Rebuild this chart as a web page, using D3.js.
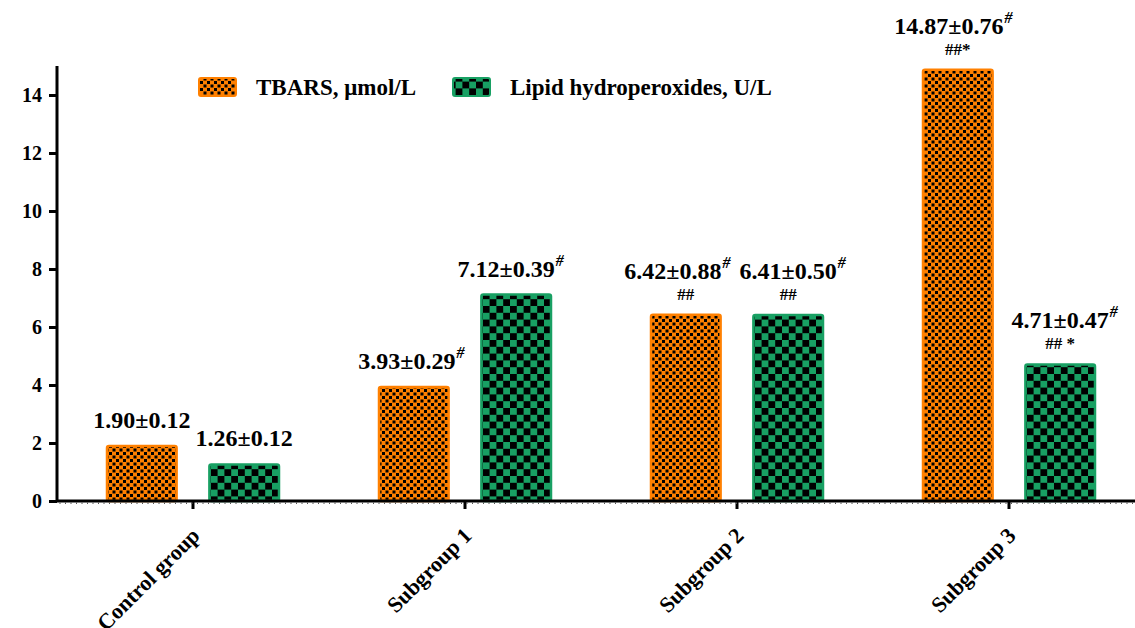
<!DOCTYPE html>
<html>
<head>
<meta charset="utf-8">
<script src="https://cdn.jsdelivr.net/npm/d3@7"></script>
<style>
  text { font-family: "Liberation Serif", "Times New Roman", serif; font-weight: bold; }
</style>
</head>
<body style="margin:0">
<svg id="chart" width="1135" height="628"></svg>
<script>
// Groups and measured means ± SE
const categories = ["Control group", "Subgroup 1", "Subgroup 2", "Subgroup 3"];
const tbars      = [1.90, 3.93, 6.42, 14.87];
const tbarsSE    = [0.12, 0.29, 0.88, 0.76];
const lipid      = [1.26, 7.12, 6.41, 4.71];
const lipidSE    = [0.12, 0.39, 0.50, 0.47];
// Significance marks: superscript after the value, and a note line beneath it
const tbarsSup   = ["", "#", "#", "#"];
const tbarsNote  = ["", "", "##", "##*"];
const lipidSup   = ["", "#", "#", "#"];
const lipidNote  = ["", "", "##", "## *"];
const seriesNames = ["TBARS, \u03bcmol/L", "Lipid hydroperoxides, U/L"];
const yTicks = [0, 2, 4, 6, 8, 10, 12, 14];

const svg = d3.select("#chart");
const ORANGE = "#ff8000", GREEN = "#18a063";

// Bold serif text helper
function txt(sel, size) {
  return sel.append("text")
    .attr("font-family", "Liberation Serif")
    .attr("font-weight", "bold")
    .attr("font-size", size)
    .attr("fill", "#000");
}

// Fill patterns: fine dots on orange, coarse checkerboard on green
const defs = svg.append("defs");
const pOr = defs.append("pattern").attr("id", "patOrange")
  .attr("patternUnits", "userSpaceOnUse").attr("width", 7).attr("height", 7);
pOr.append("rect").attr("width", 7).attr("height", 7).attr("fill", ORANGE);
pOr.append("rect").attr("x", 0.5).attr("y", 0.5).attr("width", 3).attr("height", 3).attr("fill", "#000");
pOr.append("rect").attr("x", 4).attr("y", 4).attr("width", 3).attr("height", 3).attr("fill", "#000");
const pGr = defs.append("pattern").attr("id", "patGreen")
  .attr("patternUnits", "userSpaceOnUse").attr("width", 13.6).attr("height", 13.6);
pGr.append("rect").attr("width", 13.6).attr("height", 13.6).attr("fill", GREEN);
pGr.append("rect").attr("x", 0).attr("y", 0).attr("width", 6.8).attr("height", 6.8).attr("fill", "#000");
pGr.append("rect").attr("x", 6.8).attr("y", 6.8).attr("width", 6.8).attr("height", 6.8).attr("fill", "#000");

const fills = ["url(#patOrange)", "url(#patGreen)"];
const strokes = [ORANGE, GREEN];

// Scales
const x0 = d3.scaleBand().domain(categories).range([57, 1145]);
const x1 = d3.scaleBand().domain([0, 1]).range([50, 222]).paddingInner(0.32);
const y = d3.scaleLinear().domain([0, 15]).range([501, 66]);

const rows = categories.map((c, i) => [
  { cat: c, s: 0, v: tbars[i], se: tbarsSE[i], sup: tbarsSup[i], note: tbarsNote[i] },
  { cat: c, s: 1, v: lipid[i], se: lipidSE[i], sup: lipidSup[i], note: lipidNote[i] }
]).flat();

// Bars
svg.append("g").selectAll("rect").data(rows).join("rect")
  .attr("x", d => x0(d.cat) + x1(d.s))
  .attr("y", d => y(d.v))
  .attr("width", x1.bandwidth())
  .attr("height", d => y(0) - y(d.v))
  .attr("rx", 2)
  .attr("fill", d => fills[d.s])
  .attr("stroke", d => strokes[d.s])
  .attr("stroke-width", 2.5);

// Horizontal nudges for crowded value labels (keyed by series and group index)
const labelNudge = { "0-1": -7, "1-1": -10, "0-2": -13, "0-3": -9 };

// Value labels: value±SE with a raised italic mark, optional note line below
const lab = svg.append("g");
rows.forEach(d => {
  const gi = categories.indexOf(d.cat);
  const cx = x0(d.cat) + x1(d.s) + x1.bandwidth() / 2;
  const nudge = labelNudge[`${d.s}-${gi}`] || 0;
  const top = y(d.v);
  const base = d.note ? top - 36 : top - 18;
  const t = txt(lab, 24)
    .attr("x", cx + nudge + (d.sup ? 4.5 : 0)).attr("y", base)
    .attr("text-anchor", "middle");
  t.append("tspan").text(`${d.v.toFixed(2)}\u00b1${d.se.toFixed(2)}`);
  if (d.sup) {
    t.append("tspan")
      .attr("font-size", 16).attr("font-style", "italic")
      .attr("dx", 1).attr("dy", -11)
      .text(d.sup);
  }
  if (d.note) {
    txt(lab, 17)
      .attr("x", cx).attr("y", top - 15)
      .attr("text-anchor", "middle")
      .text(d.note);
  }
});

// Y axis
const yAxis = svg.append("g").attr("transform", "translate(57,0)")
  .call(d3.axisLeft(y).tickValues(yTicks).tickSize(8).tickPadding(7).tickSizeOuter(0));
yAxis.attr("font-family", "Liberation Serif");
yAxis.select(".domain").attr("stroke", "#000").attr("stroke-width", 3)
  .attr("d", `M0,${y(0)}V${y(15)}`);
yAxis.selectAll(".tick line").attr("stroke", "#000").attr("stroke-width", 3);
yAxis.selectAll(".tick text")
  .attr("font-family", "Liberation Serif").attr("font-weight", "bold")
  .attr("font-size", 20).attr("fill", "#000").attr("dy", "0.34em");

// X axis
const xAxis = svg.append("g").attr("transform", `translate(0,${y(0)})`)
  .call(d3.axisBottom(x0).tickSize(8).tickSizeOuter(0).tickFormat(""));
xAxis.select(".domain").attr("stroke", "#000").attr("stroke-width", 3)
  .attr("d", "M56,0H1135");
xAxis.selectAll(".tick line").attr("stroke", "#000").attr("stroke-width", 3);

// Fine texture marks under the x axis line
svg.append("g").selectAll("line").data(d3.range(60, 1135, 5.5)).join("line")
  .attr("x1", d => d).attr("x2", d => d)
  .attr("y1", y(0) + 1.5).attr("y2", y(0) + 3)
  .attr("stroke", "#555").attr("stroke-width", 1);

// Rotated category labels
const catG = svg.append("g");
categories.forEach(c => {
  txt(catG, 22)
    .attr("transform", `translate(${x0(c) + x0.bandwidth() / 2 + 8},537) rotate(-45)`)
    .attr("text-anchor", "end")
    .text(c);
});

// Legend
const legend = svg.append("g");
const legX = [199, 453];
seriesNames.forEach((name, i) => {
  legend.append("rect")
    .attr("x", legX[i]).attr("y", 78).attr("width", 37).attr("height", 18)
    .attr("rx", 2)
    .attr("fill", fills[i]).attr("stroke", strokes[i]).attr("stroke-width", 2);
  txt(legend, 23)
    .attr("x", legX[i] + 57).attr("y", 95)
    .text(name);
});
</script>
</body>
</html>
